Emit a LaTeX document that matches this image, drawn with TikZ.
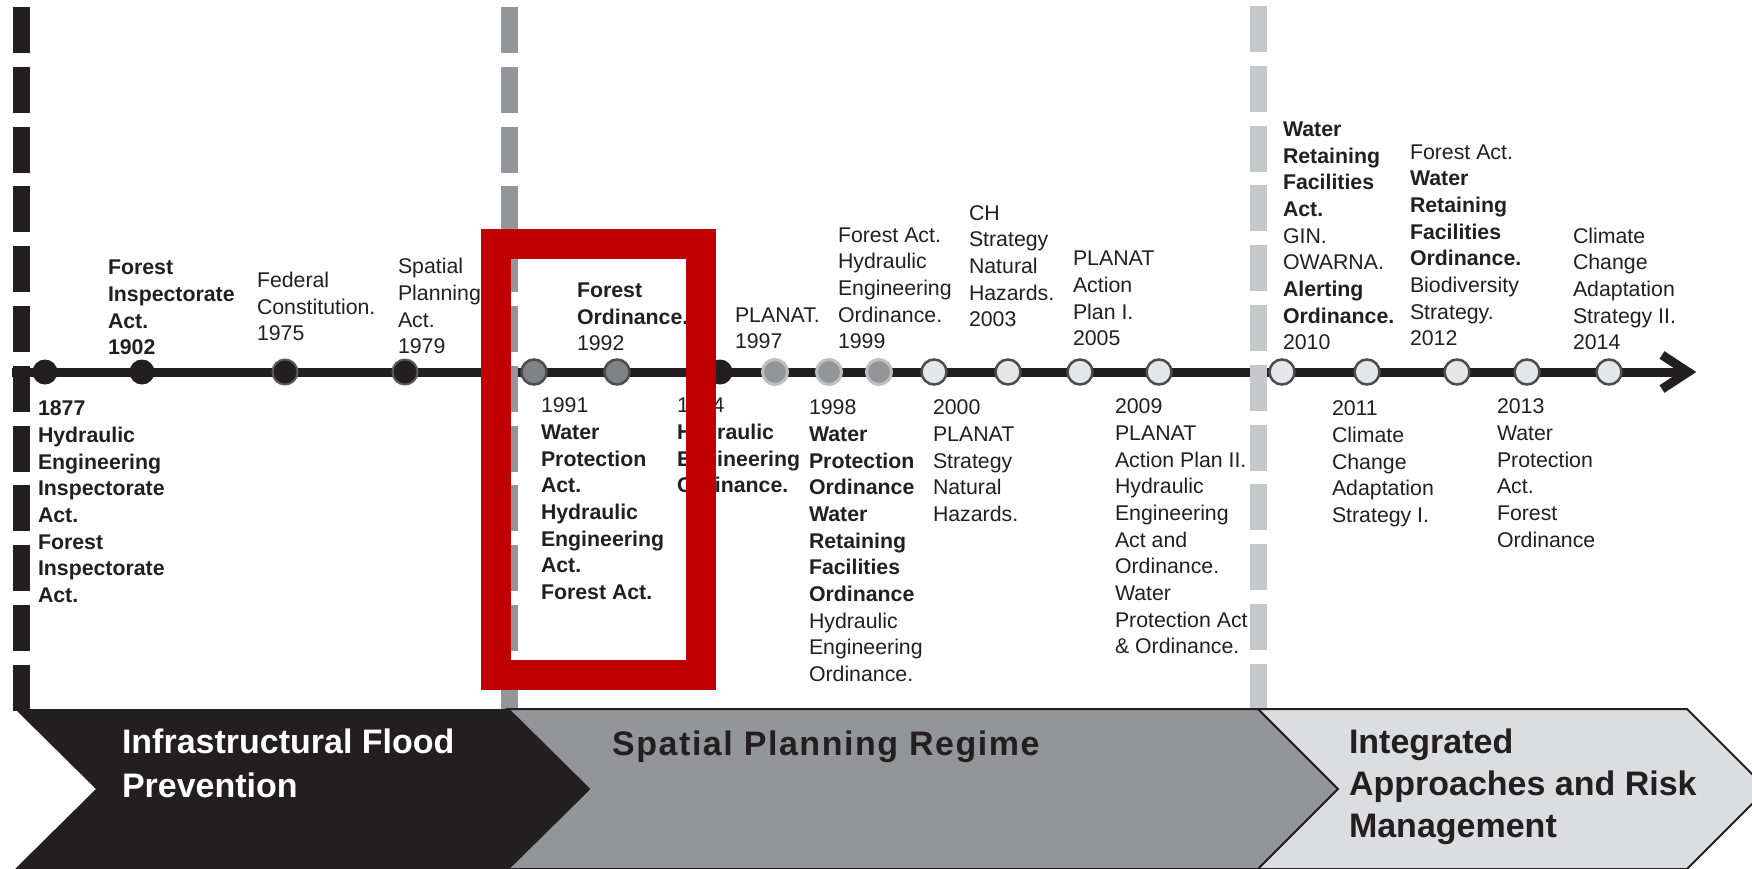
\documentclass[tikz,border=0pt]{standalone}
\usepackage{fontspec}
\setmainfont{Liberation Sans}
\newfontfamily\spacedfont[LetterSpace=4.5]{Liberation Sans}
\definecolor{ink}{HTML}{231F20}
\definecolor{grayline}{HTML}{939598}
\definecolor{lightline}{HTML}{C7C8CA}
\definecolor{chevgray}{HTML}{939598}
\definecolor{chevlight}{HTML}{DCDDDE}
\definecolor{dotmid}{HTML}{808285}
\definecolor{blurgray}{HTML}{939598}
\definecolor{blurhalo}{HTML}{BDBEC0}
\definecolor{lightfill}{HTML}{E6E7E8}
\definecolor{dotedge}{HTML}{4D4D4F}
\definecolor{redframe}{HTML}{C00000}
\begin{document}
\begin{tikzpicture}[x=1pt,y=-1pt,
  lbl/.style={inner sep=0pt, outer sep=0pt, align=left, text=ink, font=\fontsize{21.3}{26.7}\selectfont},
  lblup/.style={lbl, anchor=south west},
  lbldown/.style={lbl, anchor=north west},
  tdot/.style={circle, inner sep=0pt, minimum size=25pt},
  blackdot/.style={tdot, fill=ink},
  halodot/.style={tdot, fill=ink, draw=ink!75, line width=2pt},
  middot/.style={tdot, fill=dotmid, draw=dotedge, line width=2.5pt},
  blurdot/.style={tdot, fill=blurgray, draw=blurhalo, line width=3pt},
  lightdot/.style={tdot, fill=lightfill, draw=dotedge, line width=2.5pt},
  axisline/.style={line width=9pt, draw=ink},
  eraline/.style={line width=17pt, dash pattern=on 46pt off 13.8pt},
  chevtext/.style={inner sep=0pt, outer sep=0pt, align=left, font=\fontsize{34}{44}\selectfont\bfseries}
]
\useasboundingbox (0,0) rectangle (1752,869);
\clip (0,0) rectangle (1752,869);
\fill[white] (0,0) rectangle (1752,869);

% axis
\coordinate (axstart) at (12,372);
\coordinate (axtip) at (1688,372);
\coordinate (ahtop) at (1662,355);
\coordinate (ahbot) at (1662,389);
\draw[axisline] (axstart) -- (axtip);
\draw[axisline, line join=miter] (ahtop) -- (axtip) -- (ahbot);

% dots
\node[blackdot] (d1877) at (45,372) {};
\node[blackdot] (d1902) at (142,372) {};
\node[halodot]  (d1975) at (285,372) {};
\node[halodot]  (d1979) at (405,372) {};
\node[middot]   (d1991) at (534,372) {};
\node[middot]   (d1992) at (617,372) {};
\node[blackdot] (d1994) at (720,372) {};
\node[blurdot]  (d1997) at (775,372) {};
\node[blurdot]  (d1998) at (829,372) {};
\node[blurdot]  (d1999) at (879,372) {};
\node[lightdot] (d2000) at (934,372) {};
\node[lightdot] (d2003) at (1008,372) {};
\node[lightdot] (d2005) at (1080,372) {};
\node[lightdot] (d2009) at (1159,372) {};
\node[lightdot] (d2010) at (1282,372) {};
\node[lightdot] (d2011) at (1367,372) {};
\node[lightdot] (d2012) at (1457,372) {};
\node[lightdot] (d2013) at (1527,372) {};
\node[lightdot] (d2014) at (1609,372) {};

% labels above the axis
\node[lblup] (t1902) at (108,363) {\textbf{Forest}\\\textbf{Inspectorate}\\\textbf{Act.}\\\textbf{1902}\strut};
\node[lblup] (t1975) at (257,349) {Federal\\Constitution.\\1975\strut};
\node[lblup] (t1979) at (398,362) {Spatial\\Planning\\Act.\\1979\strut};
\node[lblup] (t1992) at (577,359) {\textbf{Forest}\\\textbf{Ordinance.}\\1992\strut};
\node[lblup] (t1997) at (735,357) {PLANAT.\\1997\strut};
\node[lblup] (t1999) at (838,357) {Forest Act.\\Hydraulic\\Engineering\\Ordinance.\\1999\strut};
\node[lblup] (t2003) at (969,335) {CH\\Strategy\\Natural\\Hazards.\\2003\strut};
\node[lblup] (t2005) at (1073,354) {PLANAT\\Action\\Plan I.\\2005\strut};
\node[lblup] (t2010) at (1283,358) {\textbf{Water}\\\textbf{Retaining}\\\textbf{Facilities}\\\textbf{Act.}\\GIN.\\OWARNA.\\\textbf{Alerting}\\\textbf{Ordinance.}\\2010\strut};
\node[lblup] (t2012) at (1410,354) {Forest Act.\\\textbf{Water}\\\textbf{Retaining}\\\textbf{Facilities}\\\textbf{Ordinance.}\\Biodiversity\\Strategy.\\2012\strut};
\node[lblup] (t2014) at (1573,358) {Climate\\Change\\Adaptation\\Strategy II.\\2014\strut};

% labels below the axis
\node[lbldown] (t1877) at (38,397) {\strut\textbf{1877}\\\textbf{Hydraulic}\\\textbf{Engineering}\\\textbf{Inspectorate}\\\textbf{Act.}\\\textbf{Forest}\\\textbf{Inspectorate}\\\textbf{Act.}};
\node[lbldown] (t1991) at (541,394) {\strut 1991\\\textbf{Water}\\\textbf{Protection}\\\textbf{Act.}\\\textbf{Hydraulic}\\\textbf{Engineering}\\\textbf{Act.}\\\textbf{Forest Act.}};
\node[lbldown] (t1994) at (677,394) {\strut 1994\\\textbf{Hydraulic}\\\textbf{Engineering}\\\textbf{Ordinance.}};
\node[lbldown] (t1998) at (809,396) {\strut 1998\\\textbf{Water}\\\textbf{Protection}\\\textbf{Ordinance}\\\textbf{Water}\\\textbf{Retaining}\\\textbf{Facilities}\\\textbf{Ordinance}\\Hydraulic\\Engineering\\Ordinance.};
\node[lbldown] (t2000) at (933,396) {\strut 2000\\PLANAT\\Strategy\\Natural\\Hazards.};
\node[lbldown] (t2009) at (1115,395) {\strut 2009\\PLANAT\\Action Plan II.\\Hydraulic\\Engineering\\Act and\\Ordinance.\\Water\\Protection Act\\\& Ordinance.};
\node[lbldown] (t2011) at (1332,397) {\strut 2011\\Climate\\Change\\Adaptation\\Strategy I.};
\node[lbldown] (t2013) at (1497,395) {\strut 2013\\Water\\Protection\\Act.\\Forest\\Ordinance};

% era separators (dashed)
\draw[eraline, draw=ink] (21,7) -- (21,712);
\draw[eraline, draw=grayline] (509,7) -- (509,712);
\draw[eraline, draw=lightline] (1258,6) -- (1258,712);

% era chevrons
\fill[ink] (15,709) -- (508,709) -- (589,789) -- (508,869) -- (15,869) -- (96,789) -- cycle;
\draw[fill=chevgray, draw=ink, line width=2pt] (508,709) -- (1258,709) -- (1338,789) -- (1258,869) -- (508,869) -- (589,789) -- cycle;
\draw[fill=chevlight, draw=ink, line width=2pt] (1258,709) -- (1687,709) -- (1767,789) -- (1687,869) -- (1258,869) -- (1338,789) -- cycle;

\node[chevtext, text=white, anchor=north west] (era1) at (122,722.2) {\strut Infrastructural Flood\\Prevention};
\node[inner sep=0pt, text=ink, anchor=base west, font=\fontsize{34}{44}\spacedfont\bfseries] (era2) at (612,755) {Spatial Planning Regime};
\node[chevtext, text=ink, anchor=north west, font=\fontsize{34}{42}\selectfont\bfseries] (era3) at (1349,723.6) {\strut Integrated\\Approaches and Risk\\Management};

% highlight frame
\node[draw=redframe, line width=30pt, minimum width=205pt, minimum height=431pt, inner sep=0pt] (highlight) at (598.5,459.5) {};
\end{tikzpicture}
\end{document}
